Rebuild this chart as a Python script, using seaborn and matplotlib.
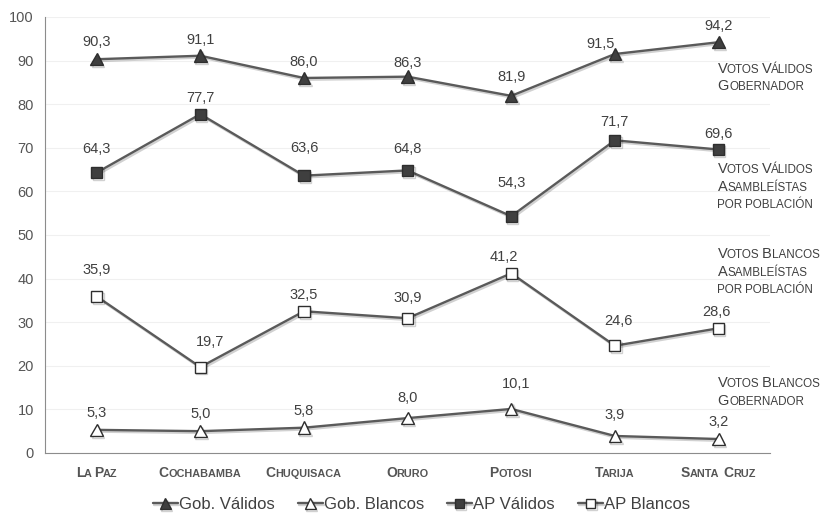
import numpy as np
import pandas as pd
import seaborn as sns
import matplotlib
matplotlib.use("Agg")
import matplotlib.pyplot as plt
from matplotlib import patheffects as pe
from matplotlib import ft2font, font_manager
from matplotlib.font_manager import FontProperties
from matplotlib.ticker import FixedLocator, NullFormatter

# ---- data -------------------------------------------------------------
departamentos = ["La Paz", "Cochabamba", "Chuquisaca", "Oruro",
                 "Potosi", "Tarija", "Santa Cruz"]
gob_validos = [90.3, 91.1, 86.0, 86.3, 81.9, 91.5, 94.2]
gob_blancos = [5.3, 5.0, 5.8, 8.0, 10.1, 3.9, 3.2]
ap_validos = [64.3, 77.7, 63.6, 64.8, 54.3, 71.7, 69.6]
ap_blancos = [35.9, 19.7, 32.5, 30.9, 41.2, 24.6, 28.6]
serie_nombres = ["Gob. Válidos", "Gob. Blancos", "AP Válidos", "AP Blancos"]
y_ticks = [0, 10, 20, 30, 40, 50, 60, 70, 80, 90, 100]

notas_laterales = [
    ["Votos Válidos", "Gobernador"],
    ["Votos Válidos", "Asambleístas", "por población"],
    ["Votos Blancos", "Asambleístas", "por población"],
    ["Votos Blancos", "Gobernador"],
]
notas_y = [87.2, 64.2, 44.7, 15.1]

# label placement (pixels above / right of each point)
etiqueta_dy = {
    "Gob. Válidos": [17, 16, 16, 14, 19, 10, 16],
    "Gob. Blancos": [17, 17, 17, 20, 25, 21, 17],
    "AP Válidos": [24, 16, 28, 21, 33, 18, 15],
    "AP Blancos": [26, 25, 16, 20, 16, 25, 16],
}
etiqueta_dx = {
    "Gob. Válidos": [0, 0, 0, 0, 0, -14, 0],
    "Gob. Blancos": [0, 0, 0, 0, 5, 0, 0],
    "AP Válidos": [0, 0, 0, 0, 0, 0, 0],
    "AP Blancos": [0, 10, 0, 0, -7, 4, -2],
}

# ---- style ------------------------------------------------------------
sns.set_style("white")
plt.rcParams["font.family"] = ["Liberation Sans", "DejaVu Sans"]

LINE = "#5a5a5a"
DARK = "#3f3f3f"
TEXT = "#404040"
AXIS = "#8c8c8c"
PX = 0.72  # points per pixel at 100 dpi

fig = plt.figure(figsize=(8.31, 5.13), dpi=100)
ax = fig.add_axes([0.054, 0.117, 0.873, 0.850])

shadow = [pe.SimpleLineShadow(offset=(1.0, -1.3), shadow_color="#000000",
                              alpha=0.18, rho=1.0),
          pe.Normal()]

estilos = {
    "Gob. Válidos": dict(marker="^", markersize=9, markerfacecolor=DARK),
    "Gob. Blancos": dict(marker="^", markersize=9, markerfacecolor="white"),
    "AP Válidos": dict(marker="s", markersize=8, markerfacecolor=DARK),
    "AP Blancos": dict(marker="s", markersize=8, markerfacecolor="white"),
}
series = dict(zip(serie_nombres, [gob_validos, gob_blancos, ap_validos, ap_blancos]))

for nombre, valores in series.items():
    sns.lineplot(x=departamentos, y=valores, ax=ax, sort=False,
                 color=LINE, linewidth=1.7, markeredgecolor="#2e2e2e",
                 markeredgewidth=1.0, label=nombre, path_effects=shadow,
                 **estilos[nombre])

# value labels above each point
for nombre, valores in series.items():
    for i, v in enumerate(valores):
        ax.annotate(f"{v:.1f}".replace(".", ","), xy=(i, v),
                    xytext=(etiqueta_dx[nombre][i] * PX,
                            etiqueta_dy[nombre][i] * PX),
                    textcoords="offset points",
                    ha="center", va="center", fontsize=10.5, color=TEXT)

# ---- axes -------------------------------------------------------------
ax.set_xlim(-0.5, 6.5)
ax.set_ylim(0, 100)
ax.set_yticks(y_ticks)
ax.set_xlabel("")
ax.set_ylabel("")
ax.xaxis.set_major_formatter(NullFormatter())
ax.xaxis.set_minor_locator(FixedLocator(np.arange(-0.5, 7, 1.0)))
ax.tick_params(axis="x", which="major", length=0)
ax.tick_params(axis="x", which="minor", length=4, width=0.8, color=AXIS,
               direction="out")
ax.tick_params(axis="y", length=4, width=0.8, color=AXIS, direction="out",
               labelsize=10.5, labelcolor="#555555", pad=4)
ax.yaxis.grid(True, color="#f0f0f0", linewidth=0.8)
ax.set_axisbelow(True)
for s in ["top", "right"]:
    ax.spines[s].set_visible(False)
for s in ["left", "bottom"]:
    ax.spines[s].set_color(AXIS)
    ax.spines[s].set_linewidth(0.8)


# ---- small caps text --------------------------------------------------
_NO_HINT = getattr(getattr(ft2font, "LoadFlags", None), "NO_HINTING", None)
if _NO_HINT is None:
    _NO_HINT = ft2font.LOAD_NO_HINTING
_fonts = {}

# optical kerning between a capital and the following small capital (em)
KERN = {"LA": -0.09, "TA": -0.10, "PA": -0.09, "PO": -0.04, "VO": -0.05,
        "VÁ": -0.08, "TO": -0.04, "OR": -0.02}


def _advance(s, size, weight):
    """Pen advance of a string in points (unhinted glyph metrics)."""
    if weight not in _fonts:
        path = font_manager.findfont(FontProperties(family="Liberation Sans",
                                                    weight=weight))
        _fonts[weight] = ft2font.FT2Font(path, hinting_factor=1)
    f = _fonts[weight]
    f.set_size(size, 72)
    total = 0.0
    for ch in s:
        g = f.load_char(ord(ch), flags=_NO_HINT)
        total += g.linearHoriAdvance / 65536.0
    return total


def small_caps(xy, text, big, small, weight="normal", color=TEXT,
               ha="left", coords="data", dy=0.0):
    pieces = []
    for k, word in enumerate(text.split(" ")):
        if k:
            pieces.append((" ", None))
        run, upper = "", None
        for ch in word:
            u = ch.isupper() or not ch.isalpha()
            if upper is None or u == upper:
                run += ch
            else:
                pieces.append((run.upper(), big if upper else small))
                run = ch
            upper = u
        pieces.append((run.upper(), big if upper else small))
    widths = []
    for j, (s, size) in enumerate(pieces):
        if size is None:
            widths.append(_advance(" ", small, weight))
            continue
        w = _advance(s, size, weight)
        if j + 1 < len(pieces) and pieces[j + 1][1] is not None:
            pair = s[-1] + pieces[j + 1][0][0]
            w += KERN.get(pair, 0.0) * big
        widths.append(w)
    total = sum(widths)
    x = -total / 2 if ha == "center" else 0.0
    for (s, size), w in zip(pieces, widths):
        if size is not None:
            ax.annotate(s, xy=xy, xycoords=coords, xytext=(x, dy),
                        textcoords="offset points", ha="left", va="baseline",
                        fontsize=size, fontweight=weight, color=color,
                        annotation_clip=False)
        x += w


# category labels under the axis
xform = ax.get_xaxis_transform()
for i, d in enumerate(departamentos):
    small_caps((i, 0), d, 10.0, 7.8, weight="bold", color="#555555",
               ha="center", coords=xform, dy=-17.5)

# series notes on the right
for lineas, y0 in zip(notas_laterales, notas_y):
    for k, linea in enumerate(lineas):
        small_caps((5.99, y0), linea, 10.5, 8.4, color=TEXT, dy=-12.6 * k)

# ---- legend -----------------------------------------------------------
handles, labels = ax.get_legend_handles_labels()
ax.get_legend().remove()
leg = fig.legend(handles, labels, loc="center", bbox_to_anchor=(0.507, 0.016),
                 ncol=4, frameon=False, handlelength=1.5, handletextpad=0.05,
                 columnspacing=1.4, fontsize=12, labelcolor=TEXT,
                 markerscale=0.85)

fig.savefig("out.png", dpi=100)
